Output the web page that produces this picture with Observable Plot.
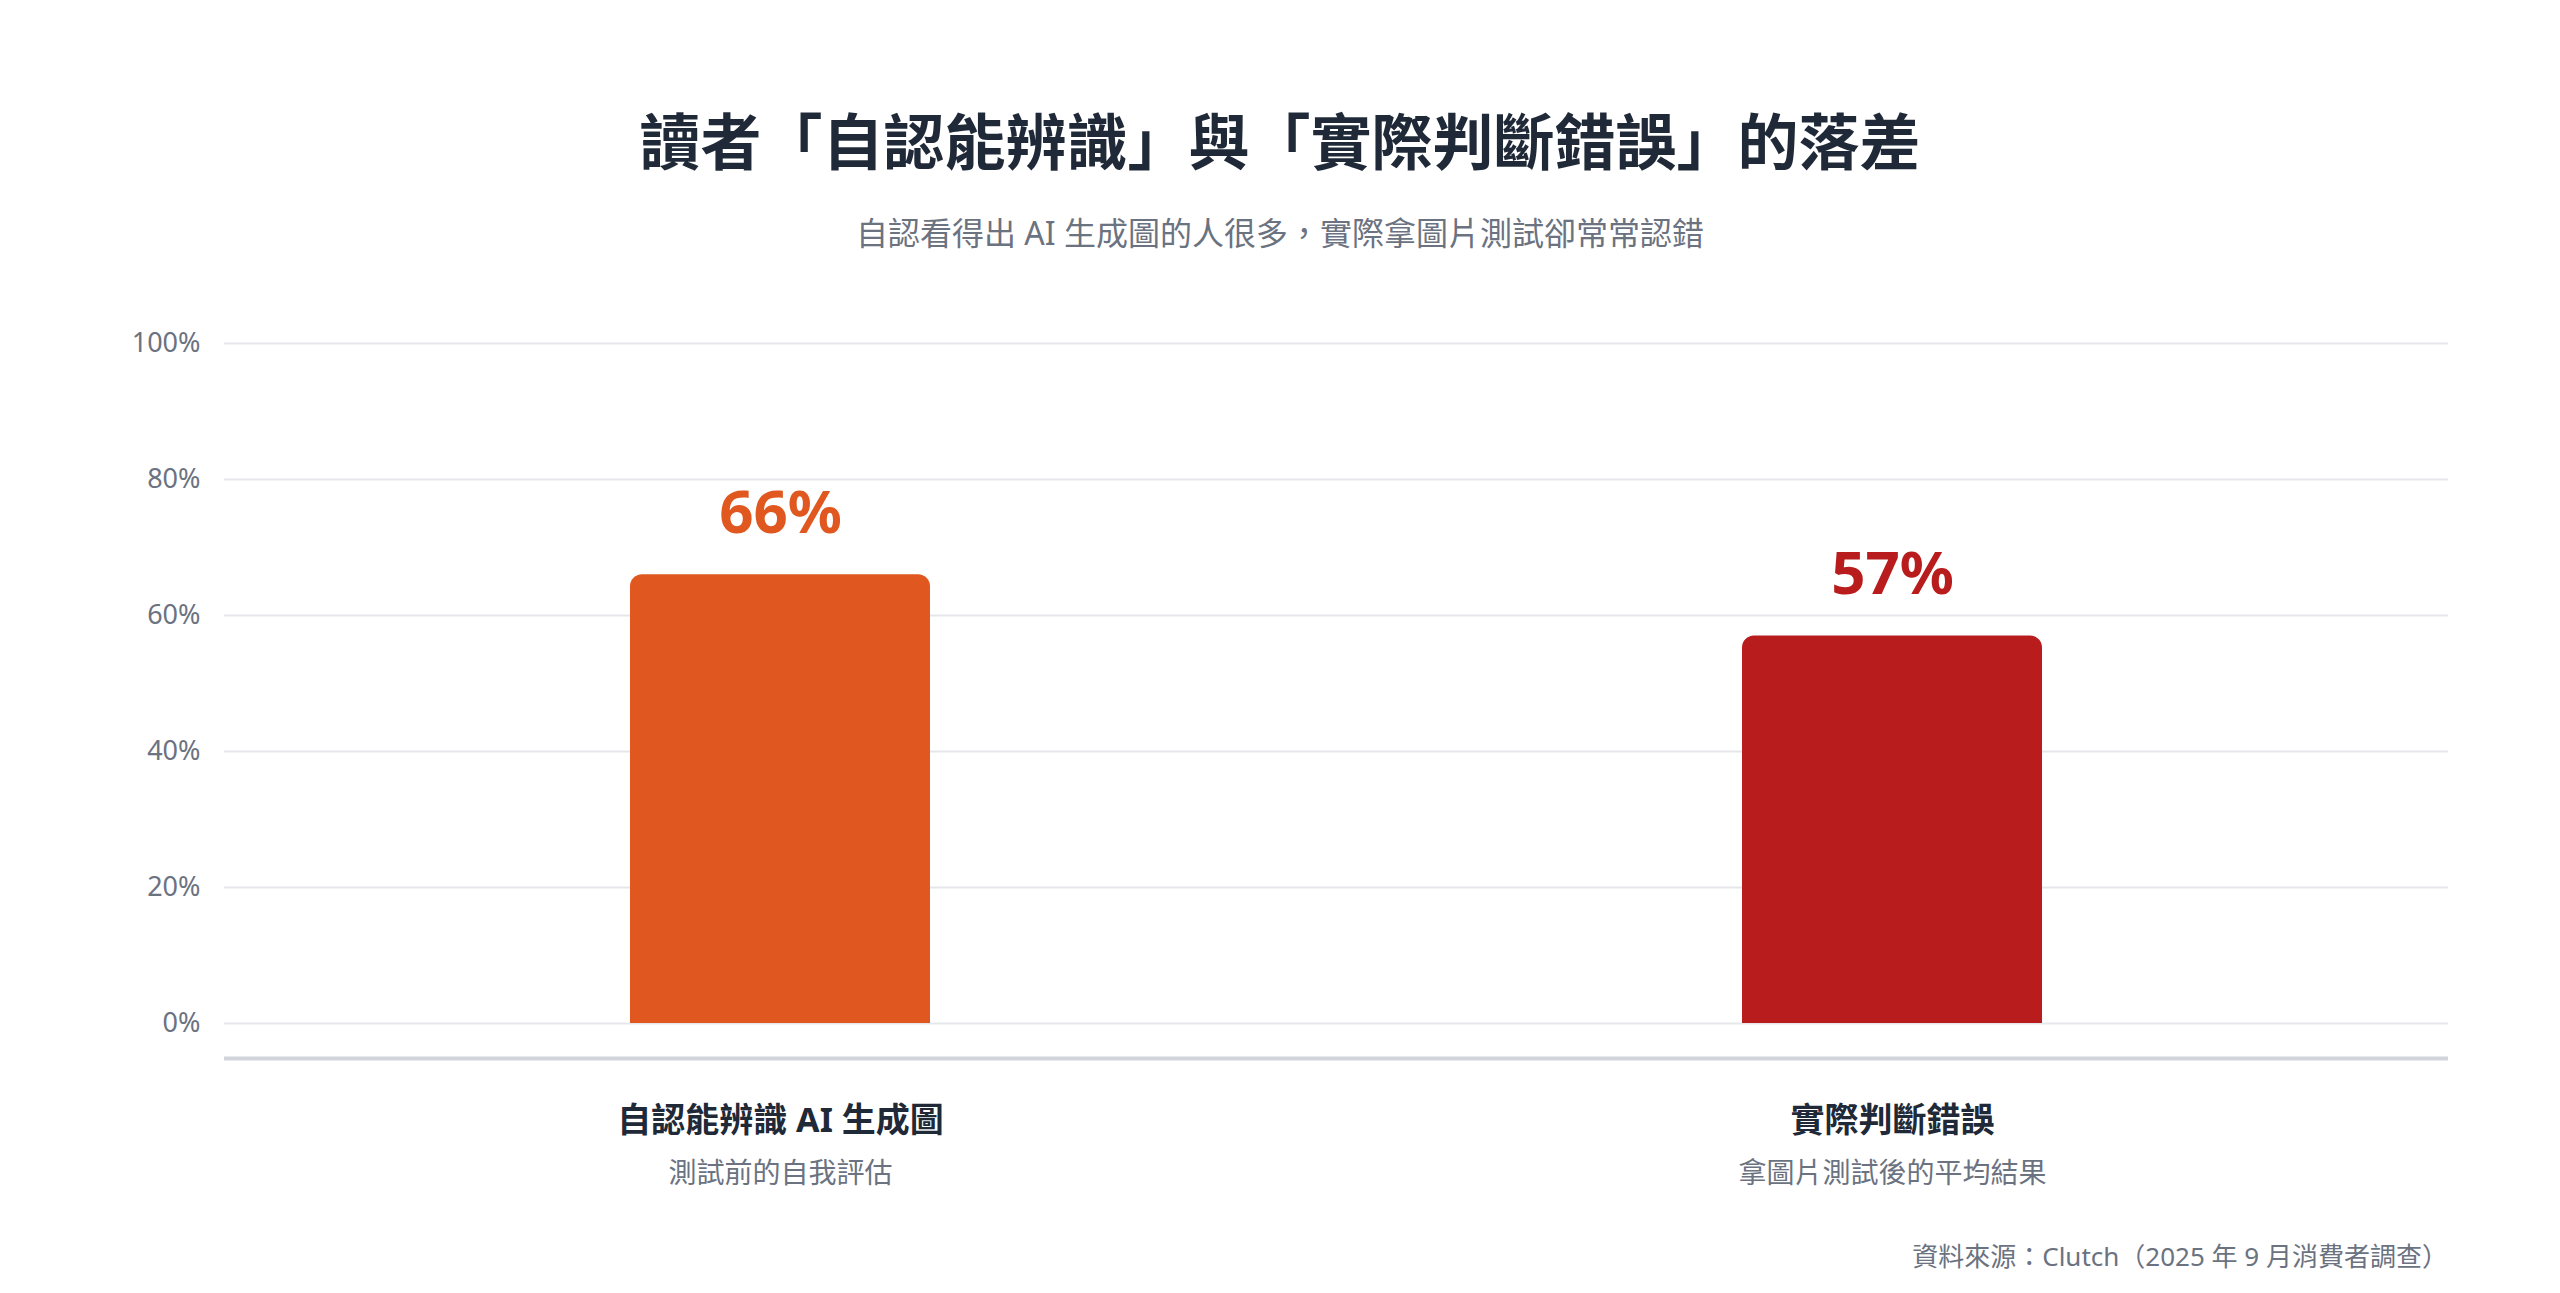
<!DOCTYPE html>
<html>
<head>
<meta charset="utf-8">
<script src="https://cdn.jsdelivr.net/npm/d3@7"></script>
<script src="https://cdn.jsdelivr.net/npm/@observablehq/plot@0.6"></script>
<style>
  html, body { margin: 0; padding: 0; background: #ffffff; }
  body { width: 2560px; height: 1293px; position: relative; overflow: hidden;
         font-family: "Noto Sans", "Noto Sans CJK TC", sans-serif; }
  .title { position: absolute; left: 0; width: 2560px; top: 111px; text-align: center;
           font-size: 61px; line-height: 1; font-weight: 700; color: #1f2937; white-space: nowrap; }
  .subtitle { position: absolute; left: 0; width: 2560px; top: 217px; text-align: center;
              font-size: 32px; line-height: 1; color: #6b7280; white-space: nowrap; }
  #chart { position: absolute; left: 0; top: 290px; }
  .source { position: absolute; right: 112px; top: 1243px; font-size: 26px; line-height: 1;
            color: #6b7280; white-space: nowrap; }
</style>
</head>
<body>
<div class="title">讀者「自認能辨識」與「實際判斷錯誤」的落差</div>
<div class="subtitle">自認看得出 AI 生成圖的人很多，實際拿圖片測試卻常常認錯</div>
<div id="chart"></div>
<div class="source">資料來源：Clutch（2025 年 9 月消費者調查）</div>
<script>
const categories = ["自認能辨識 AI 生成圖", "實際判斷錯誤"];
const subLabels = ["測試前的自我評估", "拿圖片測試後的平均結果"];
const values = [66, 57];
const barColors = ["#e0581f", "#b91c1c"];
const yTicks = [0, 20, 40, 60, 80, 100];

const data = categories.map((c, i) => ({cat: c, value: values[i], sub: subLabels[i]}));
const font = "Noto Sans, Noto Sans CJK TC, sans-serif";

const chart = Plot.plot({
  width: 2560,
  height: 920,
  marginLeft: 224,
  marginRight: 112,
  marginTop: 53,
  marginBottom: 187,
  style: {fontFamily: font, background: "transparent", overflow: "visible"},
  x: {domain: categories, paddingInner: 0.73, paddingOuter: 0.365, axis: null},
  y: {domain: [0, 100], axis: null},
  color: {domain: categories, range: barColors},
  marks: [
    Plot.ruleY(yTicks, {stroke: "#e5e7eb", strokeWidth: 2}),
    Plot.axisY(yTicks, {tickSize: 0, tickPadding: 24, tickFormat: d => d + "%",
                        fontSize: 27, fill: "#6b7280", label: null}),
    Plot.ruleY([0], {stroke: "#d1d5db", strokeWidth: 4, dy: 35}),
    Plot.barY(data, {x: "cat", y: "value", fill: "cat", rx: 12, ry: 12}),
    Plot.barY(data, {x: "cat", y1: 0, y2: d => d.value / 2, fill: "cat"}),
    Plot.text(data, {x: "cat", y: "value", text: d => d.value + "%", fill: "cat",
                     lineAnchor: "bottom", dy: -42, fontSize: 60, fontWeight: 700}),
    Plot.text(data, {x: "cat", text: "cat", frameAnchor: "bottom", lineAnchor: "middle",
                     dy: 98, fontSize: 34, fontWeight: 700, fill: "#1f2937"}),
    Plot.text(data, {x: "cat", text: "sub", frameAnchor: "bottom", lineAnchor: "middle",
                     dy: 151, fontSize: 28, fill: "#6b7280"})
  ]
});
document.getElementById("chart").appendChild(chart);
</script>
</body>
</html>
